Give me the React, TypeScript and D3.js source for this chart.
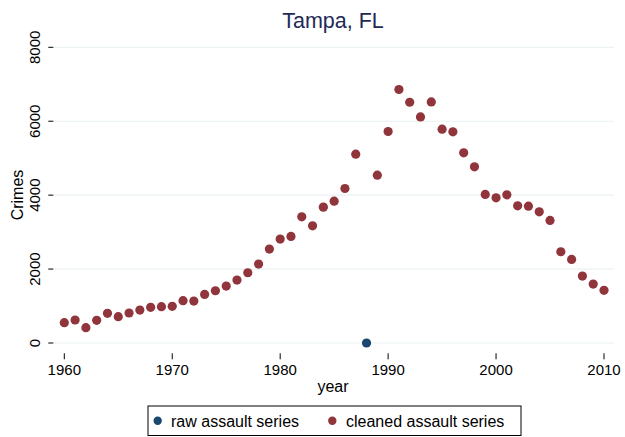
import React from "react";
import * as d3 from "d3";

const title = "Tampa, FL";
const years: number[] = [
  1960, 1961, 1962, 1963, 1964, 1965, 1966, 1967, 1968, 1969,
  1970, 1971, 1972, 1973, 1974, 1975, 1976, 1977, 1978, 1979,
  1980, 1981, 1982, 1983, 1984, 1985, 1986, 1987, 1989,
  1990, 1991, 1992, 1993, 1994, 1995, 1996, 1997, 1998, 1999,
  2000, 2001, 2002, 2003, 2004, 2005, 2006, 2007, 2008, 2009, 2010,
];
const cleanedValues: number[] = [
  549, 622, 414, 613, 802, 712, 811, 892, 964, 982,
  991, 1144, 1135, 1315, 1414, 1540, 1703, 1901, 2135, 2541,
  2811, 2883, 3414, 3171, 3676, 3838, 4180, 5109, 4541,
  5722, 6858, 6514, 6117, 6523, 5785, 5713, 5145, 4766, 4019,
  3928, 4010, 3712, 3703, 3550, 3316, 2469, 2262, 1811, 1595, 1424,
];
const rawYears: number[] = [1988];
const rawValues: number[] = [0];
const xTicks: number[] = [1960, 1970, 1980, 1990, 2000, 2010];
const yTicks: number[] = [0, 2000, 4000, 6000, 8000];
const seriesNames: string[] = ["raw assault series", "cleaned assault series"];

const W = 625;
const H = 437;
const FONT = "'Liberation Sans', Arial, Helvetica, sans-serif";
const RED = "#90353b";
const BLUE = "#1a476f";

export default function App() {
  const x = d3.scaleLinear().domain([1960, 2010]).range([64.3, 604]);
  const y = d3.scaleLinear().domain([0, 8000]).range([343, 47.3]);
  const plotLeft = 53.3;
  const plotRight = 614;

  return (
    <svg
      width={W}
      height={H}
      style={{ position: "absolute", left: 0, top: 0, background: "#fff" }}
      fontFamily={FONT}
    >
      <rect x={0} y={0} width={W} height={H} fill="#fff" />
      <text x={333} y={28} textAnchor="middle" fontSize={21.5} fill="#1e2b57">
        {title}
      </text>
      {/* gridlines */}
      {yTicks.map((t) => (
        <line
          key={"g" + t}
          x1={plotLeft}
          x2={plotRight}
          y1={y(t)}
          y2={y(t)}
          stroke="#eaf2f3"
          strokeWidth={1.2}
        />
      ))}
      {/* y ticks */}
      {yTicks.map((t) => (
        <g key={"y" + t}>
          <line x1={48.3} x2={plotLeft} y1={y(t)} y2={y(t)} stroke="#000" strokeWidth={1} />
          <text
            transform={`translate(40,${y(t)}) rotate(-90)`}
            textAnchor="middle"
            fontSize={15}
            fill="#000"
          >
            {t}
          </text>
        </g>
      ))}
      <text
        transform={`translate(23,195) rotate(-90)`}
        textAnchor="middle"
        fontSize={16}
        fill="#000"
      >
        Crimes
      </text>
      {/* x ticks */}
      {xTicks.map((t) => (
        <g key={"x" + t}>
          <line x1={x(t)} x2={x(t)} y1={353.3} y2={359.3} stroke="#000" strokeWidth={1} />
          <text x={x(t)} y={375} textAnchor="middle" fontSize={15} fill="#000">
            {t}
          </text>
        </g>
      ))}
      <text x={333} y={392} textAnchor="middle" fontSize={16} fill="#000">
        year
      </text>
      {/* points */}
      {rawYears.map((yr, i) => (
        <circle key={"r" + yr} cx={x(yr)} cy={y(rawValues[i])} r={4.6} fill={BLUE} />
      ))}
      {years.map((yr, i) => (
        <circle key={"c" + yr} cx={x(yr)} cy={y(cleanedValues[i])} r={4.6} fill={RED} />
      ))}
      {/* legend */}
      <rect x={148} y={406} width={373} height={29.5} fill="#fff" stroke="#000" strokeWidth={1} />
      <circle cx={157.7} cy={420.7} r={4.2} fill={BLUE} />
      <text x={171} y={426.5} fontSize={16} fill="#000">
        {seriesNames[0]}
      </text>
      <circle cx={332.3} cy={420.7} r={4.2} fill={RED} />
      <text x={346} y={426.5} fontSize={16} fill="#000">
        {seriesNames[1]}
      </text>
    </svg>
  );
}
